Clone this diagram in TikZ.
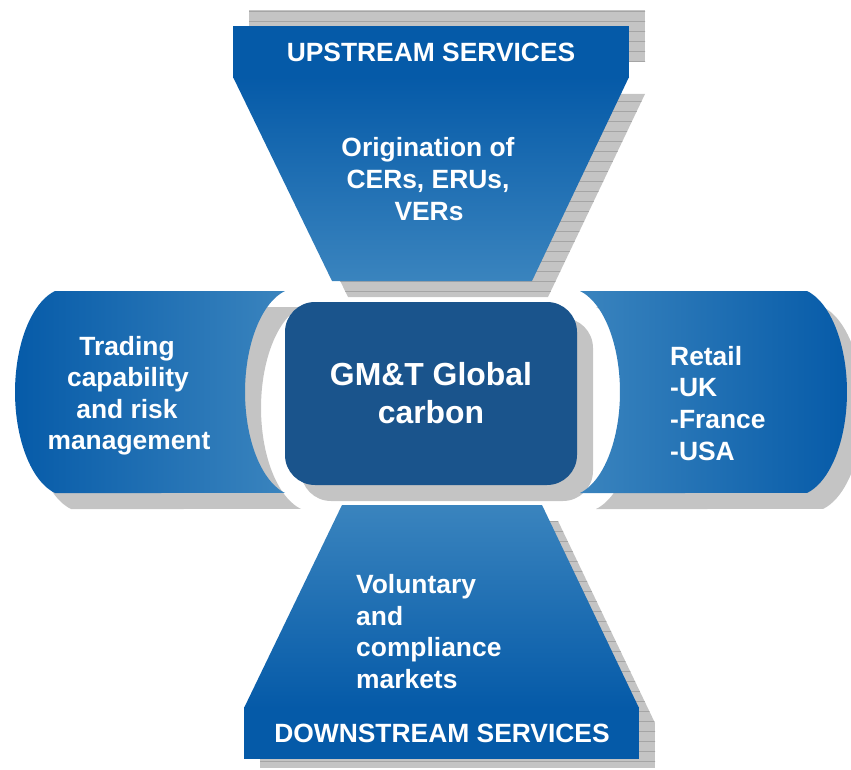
\documentclass[tikz,border=0pt]{standalone}
\usepackage{fontspec}
\setmainfont{Liberation Sans}
\definecolor{dkblue}{RGB}{5,90,168}
\definecolor{ltblue}{RGB}{58,132,190}
\definecolor{ctrblue}{RGB}{26,84,140}
\definecolor{shadowgray}{RGB}{196,196,196}
\definecolor{hatchgray}{RGB}{165,165,165}
\begin{document}
\begin{tikzpicture}[x=1pt,y=-1pt,
  shadowfill/.style={fill=shadowgray},
  hatchline/.style={draw=hatchgray,line width=0.7pt},
  lbl/.style={text=white,font=\fontsize{26.4}{31.7}\selectfont\bfseries,inner sep=0pt,anchor=base},
  bigl/.style={text=white,font=\fontsize{31.9}{38}\selectfont\bfseries,inner sep=0pt,anchor=base},
  ell/.style={x radius=52.5,y radius=104}]
\useasboundingbox (0,0) rectangle (851,770);
\clip (0,0) rectangle (851,770);

% ---------- shadows ----------
% top
\begin{scope}
  \path[shadowfill] (249,10) rectangle (645,62);
  \path[shadowfill] (249,94) -- (645,94) -- (548,297) -- (348,297) -- cycle;
  \clip (249,10) rectangle (645,62) (249,94) -- (645,94) -- (548,297) -- (348,297) -- cycle;
  \foreach \yy in {11.7,21.7,...,301.7} \draw[hatchline] (240,\yy) -- (660,\yy);
\end{scope}
% bottom
\begin{scope}
  \path[shadowfill] (358,521) -- (558,521) -- (655,723) -- (260,723) -- cycle;
  \path[shadowfill] (260,723) rectangle (655,768);
  \clip (358,521) -- (558,521) -- (655,723) -- (260,723) -- cycle (260,722) rectangle (655,768);
  \foreach \yy in {521.7,531.7,...,771.7} \draw[hatchline] (250,\yy) -- (670,\yy);
\end{scope}
% left / right / centre
\begin{scope}[shift={(16,16)}]
  \path[shadowfill] (55,291) -- (285,291) arc[start angle=256.2,end angle=103.8,ell]
     -- (55,493) arc[start angle=103.8,end angle=256.2,ell] -- cycle;
  \path[shadowfill] (580,291) -- (807,291) arc[start angle=-76.2,end angle=76.2,ell]
     -- (580,493) arc[start angle=76.2,end angle=-76.2,ell] -- cycle;
  \path[shadowfill,rounded corners=30pt] (285,302) rectangle (577,485);
\end{scope}

% ---------- shapes ----------
% top
\shade[top color=dkblue,bottom color=ltblue] (233,77) -- (629,77) -- (532,281) -- (332,281) -- cycle;
\fill[dkblue] (233,26) rectangle (629,78);
% bottom
\shade[top color=ltblue,bottom color=dkblue] (342,505) -- (542,505) -- (639,708) -- (244,708) -- cycle;
\fill[dkblue] (244,707) rectangle (639,759);
% left
\shade[left color=dkblue,right color=ltblue] (55,291) -- (285,291) arc[start angle=256.2,end angle=103.8,ell]
   -- (55,493) arc[start angle=103.8,end angle=256.2,ell] -- cycle;
% right
\shade[left color=ltblue,right color=dkblue] (580,291) -- (807,291) arc[start angle=-76.2,end angle=76.2,ell]
   -- (580,493) arc[start angle=76.2,end angle=-76.2,ell] -- cycle;
% centre
\fill[ctrblue,rounded corners=30pt] (285,302) rectangle (577,485);

% ---------- texts ----------
\node[lbl] (up) at (431,62) {UPSTREAM SERVICES};
\node[lbl] (or1) at (428,157) {Origination of};
\node[lbl] (or2) at (428,188.7) {CERs, ERUs,};
\node[lbl] (or3) at (429,220.3) {VERs};

\node[lbl] (tr1) at (127,355) {Trading};
\node[lbl] (tr2) at (128,386.5) {capability};
\node[lbl] (tr3) at (127,418) {and risk};
\node[lbl] (tr4) at (129,449.7) {management};

\node[lbl,anchor=base west] (re1) at (670,365) {Retail};
\node[lbl,anchor=base west] (re2) at (670,396.7) {-UK};
\node[lbl,anchor=base west] (re3) at (670,428.3) {-France};
\node[lbl,anchor=base west] (re4) at (670,460) {-USA};

\node[bigl] (gm1) at (431,385) {GM\&T Global};
\node[bigl] (gm2) at (431,423) {carbon};

\node[lbl,anchor=base west] (vo1) at (356,593.3) {Voluntary};
\node[lbl,anchor=base west] (vo2) at (356,625) {and};
\node[lbl,anchor=base west] (vo3) at (356,656.7) {compliance};
\node[lbl,anchor=base west] (vo4) at (356,688.3) {markets};
\node[lbl] (down) at (442,742.7) {DOWNSTREAM SERVICES};
\end{tikzpicture}
\end{document}
